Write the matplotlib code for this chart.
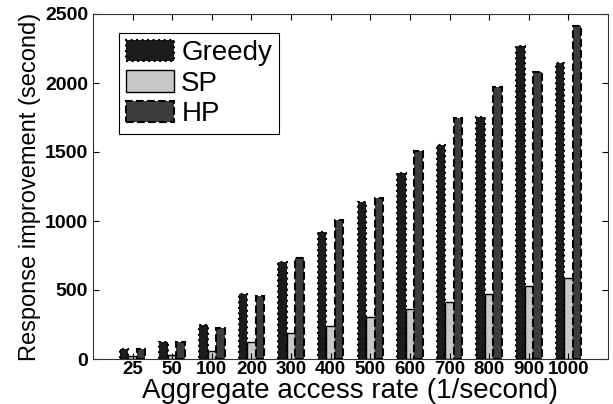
import matplotlib
matplotlib.use("Agg")
import matplotlib.pyplot as plt
import numpy as np

plt.rcParams['font.family'] = ['Liberation Sans', 'DejaVu Sans']

rates = ['25', '50', '100', '200', '300', '400', '500', '600', '700', '800', '900', '1000']
greedy = [70, 122, 246, 470, 700, 920, 1135, 1345, 1553, 1752, 2268, 2143]
sp = [20, 30, 60, 120, 185, 238, 305, 360, 416, 474, 532, 584]
hp = [70, 125, 225, 455, 735, 1010, 1166, 1508, 1745, 1973, 2077, 2416]

fig = plt.figure(figsize=(6.13, 4.04), dpi=100)
ax = fig.add_axes([93/613, 45/404, 515/613, 345/404])

x = np.arange(1, len(rates) + 1)
w = 0.215
ax.bar(x - w, greedy, w, color='#1c1c1c', edgecolor='black', linestyle=':', linewidth=1.5, label='Greedy')
ax.bar(x, sp, w, color='#c8c8c8', edgecolor='black', linestyle='-', linewidth=1.0, label='SP')
ax.bar(x + w, hp, w, color='#3c3c3c', edgecolor='black', linestyle='--', linewidth=1.5, label='HP')

ax.set_xlim(0, 13)
ax.set_ylim(0, 2500)
ax.set_xticks(x)
ax.set_xticklabels(rates, fontsize=13.5, fontweight='bold')
ax.set_yticks([0, 500, 1000, 1500, 2000, 2500])
ax.set_yticklabels(['0', '500', '1000', '1500', '2000', '2500'], fontsize=14, fontweight='bold')
ax.tick_params(axis='x', pad=1.5)
ax.tick_params(direction='in', top=True, right=True, length=4, width=0.8)
for s in ax.spines.values():
    s.set_linewidth(0.8)
    s.set_color('#333333')

ax.set_xlabel('Aggregate access rate (1/second)', fontsize=20)
ax.xaxis.set_label_coords((350 - 93) / 515, -(404 - 359) / 345, transform=ax.transAxes)
ax.xaxis.label.set_va('bottom')
ax.set_ylabel('Response improvement (second)', fontsize=17, labelpad=3)

leg = ax.legend(loc='upper left', bbox_to_anchor=(0.05, 0.945), fontsize=20,
                frameon=True, fancybox=False, edgecolor='black', framealpha=1,
                handlelength=1.75, handleheight=0.8, handletextpad=0.25,
                labelspacing=0.15, borderpad=0.25, borderaxespad=0)
leg.get_frame().set_linewidth(0.8)

fig.savefig('out.png', dpi=100)
